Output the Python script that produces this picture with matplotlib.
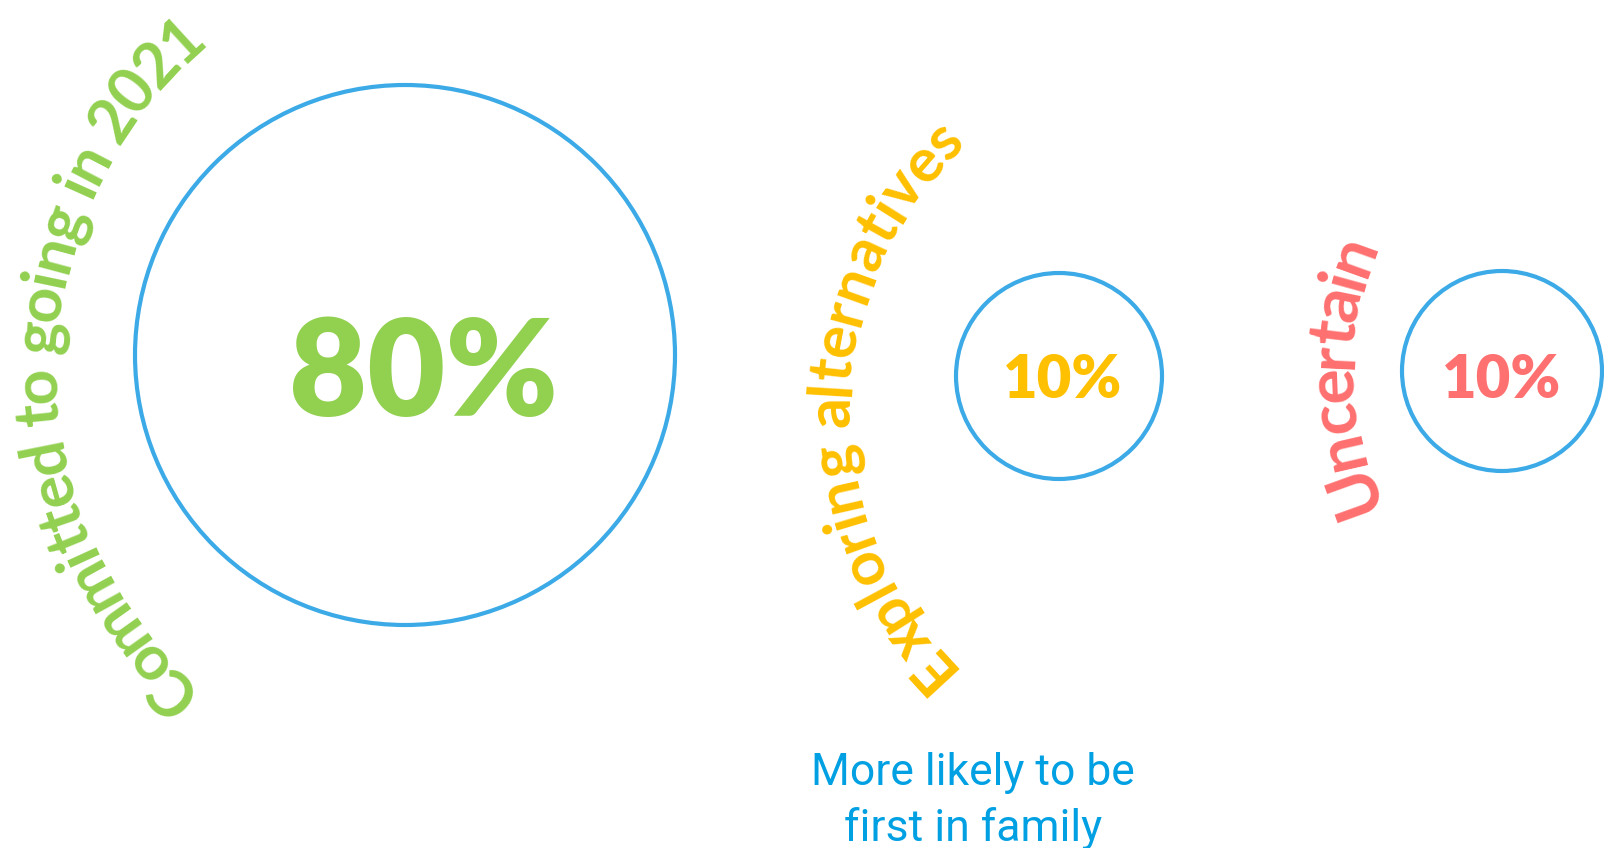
import matplotlib.pyplot as plt
from matplotlib.patches import Circle
from matplotlib.textpath import TextPath
from matplotlib.font_manager import FontProperties, fontManager
import numpy as np

labels = ['Committed to going in 2021', 'Exploring alternatives', 'Uncertain']
shares = [80, 10, 10]
label_colors = ['#92D050', '#FFC000', '#FF7070']
note_lines = ['More likely to be', 'first in family']

W, H = 1604, 848
ring_color = '#3BAAE7'
note_color = '#00A0E3'

# layout, pixel units, y measured from the top of the image
circles = [(405, 355, 270), (1059, 376, 103), (1502, 371, 100)]
pct_pos = [(424, 416, 97), (1063, 398, 43), (1502, 398, 43)]
# arc centre x, y, baseline radius, start angle, end angle, font size
arcs = [(484, 369, 428, 225.8, 132.5, 45),
        (1209, 411, 360, 222.7, 134.3, 44),
        (1680, 372, 328, 199.8, 160.3, 48)]

names = {f.name for f in fontManager.ttflist}
narrow = 'Liberation Sans Narrow' if 'Liberation Sans Narrow' in names else 'Roboto'


def char_width(c, prop):
    w2 = TextPath((0, 0), 'xx', size=10, prop=prop).get_extents().width
    w3 = TextPath((0, 0), 'x' + c + 'x', size=10, prop=prop).get_extents().width
    return w3 - w2


def arc_text(ax, text, cx, cy, r, a0, a1, size, color):
    prop = FontProperties(family='Lato', weight='bold')
    widths = np.array([char_width(c, prop) for c in text])
    mids = np.cumsum(widths) - widths / 2
    mids = (mids - mids[0]) / (mids[-1] - mids[0])
    for c, m in zip(text, mids):
        th = a0 + (a1 - a0) * m
        x = cx + r * np.cos(np.radians(th))
        y = (H - cy) + r * np.sin(np.radians(th))
        ax.text(x, y, c, rotation=th - 90, rotation_mode='anchor',
                ha='center', va='baseline', fontsize=size, color=color,
                family='Lato', weight='bold')


fig = plt.figure(figsize=(W / 100, H / 100), dpi=100)
ax = fig.add_axes([0, 0, 1, 1])
ax.set_xlim(0, W)
ax.set_ylim(0, H)
ax.axis('off')

for (x, y, r) in circles:
    ax.add_patch(Circle((x, H - y), r, fill=False, edgecolor=ring_color, linewidth=3))

for s, col, (x, y, fs) in zip(shares, label_colors, pct_pos):
    ax.text(x, H - y, f'{s}%', ha='center', va='baseline', fontsize=fs,
            color=col, family='Lato', weight='heavy')

for lab, col, (cx, cy, r, a0, a1, fs) in zip(labels, label_colors, arcs):
    arc_text(ax, lab, cx, cy, r, a0, a1, fs, col)

for i, line in enumerate(note_lines):
    ax.text(973, H - 785 - 56 * i, line, ha='center', va='baseline', fontsize=32,
            color=note_color, family=narrow)

fig.savefig('out.png', dpi=100)
